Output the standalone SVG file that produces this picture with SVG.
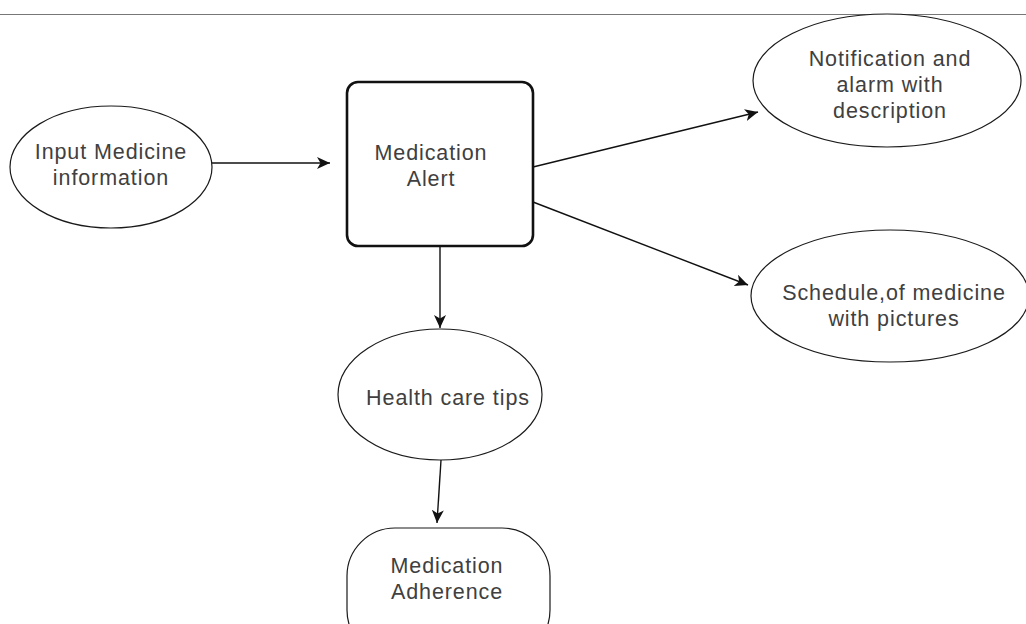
<svg xmlns="http://www.w3.org/2000/svg" width="1026" height="624" viewBox="0 0 1026 624">
<defs>
<style>
.shape{fill:#fff;stroke:#1a1a1a;stroke-width:1.2}
.bold{fill:#fff;stroke:#111;stroke-width:2.6}
.lbl{font-family:"Liberation Sans",Arial,sans-serif;font-size:21.5px;fill:#404040;text-anchor:middle;letter-spacing:0.9px}
.edge{fill:none;stroke:#111;stroke-width:1.4;marker-end:url(#arr)}
</style>
<marker id="arr" markerUnits="userSpaceOnUse" markerWidth="16" markerHeight="14" refX="13" refY="6" orient="auto">
<path d="M0,0 L13,6 L0,12 L3.5,6 z" fill="#111"/>
</marker>
</defs>
<rect width="1026" height="624" fill="#fff"/>
<line x1="0" y1="14.5" x2="1026" y2="14.5" stroke="#777" stroke-width="1.2"/>
<g id="connectors">
<line class="edge" x1="212" y1="163" x2="330" y2="163"/>
<line class="edge" x1="533" y1="167" x2="758" y2="112"/>
<line class="edge" x1="533" y1="202" x2="748" y2="285"/>
<line class="edge" x1="440" y1="247" x2="440" y2="328"/>
<line class="edge" x1="441" y1="460" x2="437" y2="523"/>
</g>
<g id="input">
<ellipse class="shape" cx="111" cy="167" rx="101" ry="61"/>
<text class="lbl" x="111" y="159">Input Medicine</text>
<text class="lbl" x="111" y="185">information</text>
</g>
<g id="alert">
<rect class="bold" x="347" y="82" width="186" height="164" rx="11"/>
<text class="lbl" x="431" y="160">Medication</text>
<text class="lbl" x="431" y="186">Alert</text>
</g>
<g id="notification">
<ellipse class="shape" cx="887" cy="80.5" rx="134" ry="66.5"/>
<text class="lbl" x="890" y="66">Notification and</text>
<text class="lbl" x="890" y="92">alarm with</text>
<text class="lbl" x="890" y="118">description</text>
</g>
<g id="schedule">
<ellipse class="shape" cx="890" cy="296" rx="139" ry="66"/>
<text class="lbl" x="894" y="300">Schedule,of medicine</text>
<text class="lbl" x="894" y="326">with pictures</text>
</g>
<g id="tips">
<ellipse class="shape" cx="440" cy="394.5" rx="102" ry="65.5"/>
<text class="lbl" x="448" y="405">Health care tips</text>
</g>
<g id="adherence">
<rect class="shape" x="347" y="528" width="203" height="130" rx="48"/>
<text class="lbl" x="447" y="573">Medication</text>
<text class="lbl" x="447" y="599">Adherence</text>
</g>
</svg>
